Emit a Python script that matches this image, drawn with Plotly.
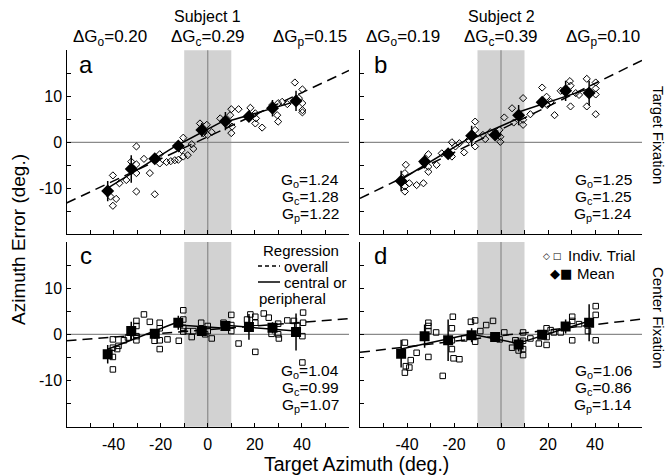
import numpy as np
import plotly.graph_objects as go

W, H = 672, 475
FONT = "Liberation Sans, Arial, sans-serif"

# ---------------- data ----------------
target_bins = [-42.5, -32.5, -22.5, -12.5, -2.5, 7.5, 17.5, 27.5, 37.5]

# Panel a : Subject 1, target fixation
a_trial_x = [-40.3, -38.9, -40.3, -41.3, -37.5, -34.6,
             -30.3, -30.3, -30.3, -30.3, -27.1, -32.5,
             -20.4, -20.4, -24.6, -22.5, -17.5, -15.7, -14.0,
             -10.4, -10.4, -11.1, -8.5, -6.8, -6.1, -12.5,
             -3.3, -0.4, 0.0, 1.7, -1.9,
             10.0, 13.1, 9.5, 10.0, 10.3, 5.3, 8.1,
             18.1, 20.2, 20.2, 23.1, 20.5,
             29.9, 29.9, 29.5, 27.4, 33.8, 31.6,
             37.0, 40.2, 40.2, 40.2, 40.2, 38.7]
a_trial_y = [-7.2, -12.3, -13.8, -11.8, -8.9, -8.2,
             -0.9, -4.8, -6.7, -10.7, -3.6, -4.2,
             -2.6, -4.6, -6.7, -11.3, -4.3, -4.1, -3.9,
             1.0, -3.1, -1.7, -2.8, -0.4, -1.4, -3.8,
             4.1, 3.8, 1.6, 2.2, 2.0,
             7.2, 7.2, 5.9, 2.0, 3.4, 5.2, 3.8,
             7.5, 6.3, 4.1, 3.2, 5.2,
             8.5, 4.5, 5.9, 8.1, 8.3, 8.8,
             13.0, 11.5, 8.5, 7.0, 6.5, 9.6]
a_mean_y = [-10.6, -5.8, -3.6, -0.8, 2.7, 4.6, 5.6, 7.4, 9.0]
a_mean_sd = [2.2, 3.0, 1.0, 1.0, 1.5, 2.0, 1.0, 1.8, 2.2]

# Panel b : Subject 2, target fixation
b_trial_x = [-40.5, -40.9, -40.9, -40.9, -39.0, -35.9, -33.0,
             -30.9, -30.9, -30.9, -27.4, -32.8,
             -20.9, -20.9, -25.2, -17.7, -15.7, -19.4,
             -11.0, -11.0, -11.0, -13.8, -7.7, -6.7,
             -0.6, -0.3, -0.3, 1.4, -4.6,
             9.4, 9.4, 9.4, 4.7, 5.4, 12.5,
             17.5, 19.4, 19.7, 22.8, 21.1,
             25.4, 29.3, 29.6, 29.6, 33.2, 31.8,
             36.5, 40.3, 40.3, 40.3, 36.5, 40.3]
b_trial_y = [-4.9, -6.7, -9.6, -10.7, -8.9, -9.3, -8.9,
             -2.6, -5.3, -6.4, -4.9, -4.6,
             0.0, -3.1, -2.4, -0.2, -2.2, -0.9,
             4.5, 2.7, -0.9, 0.5, 1.6, 0.7,
             2.7, 1.2, 0.1, 5.4, 2.2,
             9.6, 4.9, 3.8, 7.4, 4.3, 6.1,
             11.9, 9.9, 8.1, 5.9, 8.8,
             11.2, 13.3, 12.3, 7.8, 10.3, 10.7,
             13.8, 13.0, 11.7, 10.4, 7.8, 6.1]
b_mean_y = [-8.4, -4.2, -2.5, 1.4, 1.6, 5.9, 8.7, 11.2, 10.7]
b_mean_sd = [2.2, 1.5, 1.0, 2.2, 1.0, 2.2, 1.0, 2.2, 2.7]

# Panel c : Subject 1, center fixation
c_trial_x = [-40.3, -40.3, -40.3, -40.3, -38.5, -37.9,
             -30.3, -30.3, -30.3, -30.3, -27.1, -35.6, -33.9,
             -20.4, -20.4, -20.4, -20.4, -24.6, -17.1, -22.6, -12.3,
             -10.4, -10.4, -10.4, -10.4, -8.5, -6.8, -6.1,
             -2.8, 0.0, 0.0, 1.7, -1.1,
             10.0, 10.0, 10.0, 6.7, 13.1,
             18.1, 20.2, 20.2, 16.7, 23.8, 20.2,
             25.9, 29.9, 29.9, 30.2, 33.8, 27.1,
             40.5, 40.5, 40.2, 40.2, 36.6, 38.0]
c_trial_y = [-1.1, -2.9, -4.9, -7.6, -3.2, -2.5,
             2.9, 1.8, -0.4, -1.3, 4.3, -1.3, -0.7,
             2.5, 1.3, -1.3, -3.2, 2.7, -1.1, -1.4, -1.4,
             5.2, 3.2, 1.4, 0.6, 0.7, -0.6, 0.7,
             2.5, 1.8, 0.7, -0.9, 0.0,
             4.2, 2.0, 0.7, 2.5, -2.0,
             4.3, 3.8, 2.5, 3.2, 4.5, -3.8,
             3.6, 2.3, 0.0, -0.9, 3.0, 0.1,
             4.7, 2.5, -0.4, -6.1, 2.9, 1.8]
c_mean_y = [-4.3, 0.7, 0.1, 2.5, 0.7, 1.8, 1.6, 1.4, 0.5]
c_mean_sd = [2.0, 2.0, 1.0, 1.5, 0.8, 1.0, 2.8, 1.2, 4.0]

# Panel d : Subject 2, center fixation
d_trial_x = [-40.9, -40.5, -39.0, -40.9, -38.4,
             -30.9, -30.9, -30.9, -27.6, -35.9, -30.9,
             -20.5, -20.9, -20.9, -20.2, -17.7, -24.8, -20.9,
             -11.0, -12.8, -11.0, -15.7, -8.8, -6.3, -3.4,
             1.4, -0.6, -3.1,
             9.4, 9.4, 9.4, 9.4, 6.1, 4.7, 7.5, 12.5,
             19.4, 19.4, 19.4, 16.1, 22.5, 21.1,
             30.3, 30.3, 30.3, 33.2, 25.4,
             40.3, 40.3, 40.3, 37.0]
d_trial_y = [-1.8, -6.9, -7.2, -8.3, -5.6,
             2.5, 1.8, 0.7, 0.4, -4.0, -4.9,
             3.8, 1.3, -3.2, -5.2, -5.4, -9.0, -1.3,
             3.0, 2.7, -1.6, -0.9, 0.7, 2.0, 2.9,
             0.4, -1.1, -0.6,
             0.4, -1.4, -3.2, -4.5, -1.3, -2.9, -3.5, -0.9,
             1.3, -0.6, -2.3, -2.0, 0.4, 0.9,
             3.8, 2.9, -1.3, 2.2, 0.4,
             6.1, 4.2, -1.3, 0.7]
d_mean_y = [-4.2, -0.4, -1.3, -0.2, -0.6, -2.2, -0.1, 1.7, 2.5]
d_mean_sd = [3.0, 2.5, 4.5, 1.5, 0.5, 1.5, 1.0, 1.5, 4.0]

panel_letters = ["a", "b", "c", "d"]
gain_overall = [1.24, 1.25, 1.04, 1.06]
gain_central = [1.28, 1.25, 0.99, 0.86]
gain_peripheral = [1.22, 1.24, 1.07, 1.14]
overall_intercept = [1.2, 2.8, 1.0, -0.3]

subjects = ["Subject 1", "Subject 2"]
delta_go = [0.20, 0.19]
delta_gc = [0.29, 0.39]
delta_gp = [0.15, 0.10]
row_labels = ["Target Fixation", "Center Fixation"]

central_zone = [-10, 10]
x_range = [-60, 60]
y_range = [-20, 20]
zone_groups = [(0, 4), (3, 6), (5, 9)]   # left peripheral, central, right peripheral bins

x_ticks = [-50, -40, -30, -20, -10, 0, 10, 20, 30, 40, 50]
x_ticktext = [" ", "-40", " ", "-20", " ", "0", " ", "20", " ", "40", " "]
y_ticks = [-15, -10, -5, 0, 5, 10, 15]
y_ticktext = [" ", "-10", " ", "0", " ", "10", " "]

panels = [
    (a_trial_x, a_trial_y, a_mean_y, a_mean_sd, "diamond"),
    (b_trial_x, b_trial_y, b_mean_y, b_mean_sd, "diamond"),
    (c_trial_x, c_trial_y, c_mean_y, c_mean_sd, "square"),
    (d_trial_x, d_trial_y, d_mean_y, d_mean_sd, "square"),
]

# ---------------- layout geometry (pixels) ----------------
col_px = [(66.5, 349.0), (360.0, 642.0)]
row_px = [(50.3, 234.3), (241.9, 426.7)]


def fx(px):
    return px / W


def fy(py):
    return 1 - py / H


fig = go.Figure()
layout = dict(
    width=W, height=H, margin=dict(l=0, r=0, t=0, b=0),
    paper_bgcolor="white", plot_bgcolor="white", showlegend=False,
    font=dict(family=FONT, size=14, color="black"),
)
shapes = []
annotations = []


def note(text, px, py, size, xanchor="center", angle=0, family=FONT):
    annotations.append(dict(text=text, xref="paper", yref="paper", x=fx(px), y=fy(py),
                            xanchor=xanchor, yanchor="middle", showarrow=False, textangle=angle,
                            font=dict(size=size, family=family, color="black")))


for i, (tx, ty, my, msd, sym) in enumerate(panels):
    r, c = divmod(i, 2)
    n = "" if i == 0 else str(i + 1)
    xa, ya = "x" + n, "y" + n
    layout["xaxis" + n] = dict(
        domain=[fx(col_px[c][0]), fx(col_px[c][1])], anchor=ya, range=x_range,
        showgrid=False, zeroline=False, showline=True, linecolor="black", linewidth=1.3,
        ticks="inside", ticklen=4, tickwidth=1, tickcolor="black",
        tickvals=x_ticks, ticktext=x_ticktext, showticklabels=(r == 1),
        tickfont=dict(size=16, family=FONT), ticklabelstandoff=3,
    )
    layout["yaxis" + n] = dict(
        domain=[fy(row_px[r][1]), fy(row_px[r][0])], anchor=xa, range=y_range,
        showgrid=False, zeroline=False, showline=True, linecolor="black", linewidth=1.3,
        ticks="inside", ticklen=4, tickwidth=1, tickcolor="black",
        tickvals=y_ticks, ticktext=y_ticktext, showticklabels=(c == 0),
        tickfont=dict(size=16, family=FONT),
    )
    # shaded central zone and zero lines
    shapes.append(dict(type="rect", xref=xa, yref=ya + " domain", x0=central_zone[0], x1=central_zone[1],
                       y0=0, y1=1, fillcolor="#d2d2d2", line=dict(width=0), layer="below"))
    shapes.append(dict(type="line", xref=xa, yref=ya + " domain", x0=0, x1=0, y0=0, y1=1,
                       line=dict(color="#8a8a8a", width=1.2), layer="below"))
    shapes.append(dict(type="line", xref=xa + " domain", yref=ya, x0=0, x1=1, y0=0, y1=0,
                       line=dict(color="#8a8a8a", width=1.2), layer="below"))

    # individual trials
    fig.add_trace(go.Scatter(
        x=tx, y=ty, mode="markers", xaxis=xa, yaxis=ya,
        marker=dict(symbol=sym + "-open", size=5.5 if sym == "diamond" else 5.5,
                    color="black", line=dict(width=1, color="black")),
    ))
    # overall regression (dashed)
    xs = np.array(x_range, dtype=float)
    ys = (gain_overall[i] - 1) * xs + overall_intercept[i]
    fig.add_trace(go.Scatter(x=xs, y=ys, mode="lines", xaxis=xa, yaxis=ya,
                             line=dict(color="black", width=1.5, dash="10px,6px")))
    # central / peripheral regressions (solid)
    bx = np.array(target_bins)
    by = np.array(my)
    for (s, e) in zone_groups:
        k, b0 = np.polyfit(bx[s:e], by[s:e], 1)
        sx = np.array([bx[s], bx[e - 1]])
        fig.add_trace(go.Scatter(x=sx, y=k * sx + b0, mode="lines", xaxis=xa, yaxis=ya,
                                 line=dict(color="black", width=1.5)))
    # means with SD
    fig.add_trace(go.Scatter(
        x=target_bins, y=my, mode="markers", xaxis=xa, yaxis=ya,
        marker=dict(symbol=sym, size=10, color="black", line=dict(width=0)),
        error_y=dict(type="data", array=msd, visible=True, color="black", thickness=1.5, width=0),
    ))

    # panel letter
    note(panel_letters[i], col_px[c][0] + 20, row_px[r][0] + 14, 24)
    # gains
    gtxt = [("o", gain_overall[i]), ("c", gain_central[i]), ("p", gain_peripheral[i])]
    for j, (sub, g) in enumerate(gtxt):
        note("G<sub>%s</sub>=%.2f" % (sub, g), col_px[c][1] - 8, row_px[r][0] + 130 + 17 * j, 15.5,
             xanchor="right")

# subject headers
for c in range(2):
    x0 = (col_px[c][0] + col_px[c][1]) / 2
    note(subjects[c], x0, 17, 16)
    for dx, sub, val in [(-98, "o", delta_go[c]), (0, "c", delta_gc[c]), (102, "p", delta_gp[c])]:
        note("ΔG<sub>%s</sub>=%.2f" % (sub, val), x0 + dx, 38, 17)

# row labels
for r in range(2):
    note(row_labels[r], 659, [135, 318][r], 15, angle=90)

# axis titles
note("Azimuth Error (deg.)", 18, 240, 19, angle=-90)
note("Target Azimuth (deg.)", 356, 464, 19.5)

# legend in panel c
note("Regression", 301, 251, 15)
note("overall", 282, 266, 15, xanchor="left")
note("central or", 282, 282, 15, xanchor="left")
note("peripheral", 257, 298, 15, xanchor="left")
shapes.append(dict(type="line", xref="paper", yref="paper", x0=fx(258), x1=fx(280), y0=fy(266), y1=fy(266),
                   line=dict(color="black", width=1.5, dash="4px,3px")))
shapes.append(dict(type="line", xref="paper", yref="paper", x0=fx(258), x1=fx(280), y0=fy(282), y1=fy(282),
                   line=dict(color="black", width=1.5)))

# legend in panel d
note("◇ □", 563, 256, 9, xanchor="right", family="DejaVu Sans")
note("Indiv. Trial", 566, 255, 15, xanchor="left")
note("◆■", 574, 273, 13, xanchor="right", family="DejaVu Sans")
note("Mean", 575, 273, 15, xanchor="left")

layout["shapes"] = shapes
layout["annotations"] = annotations
fig.update_layout(**layout)
fig.write_html("out.html", config={"displayModeBar": False},
               post_script="document.body.style.margin='0';document.body.style.overflow='hidden';")
